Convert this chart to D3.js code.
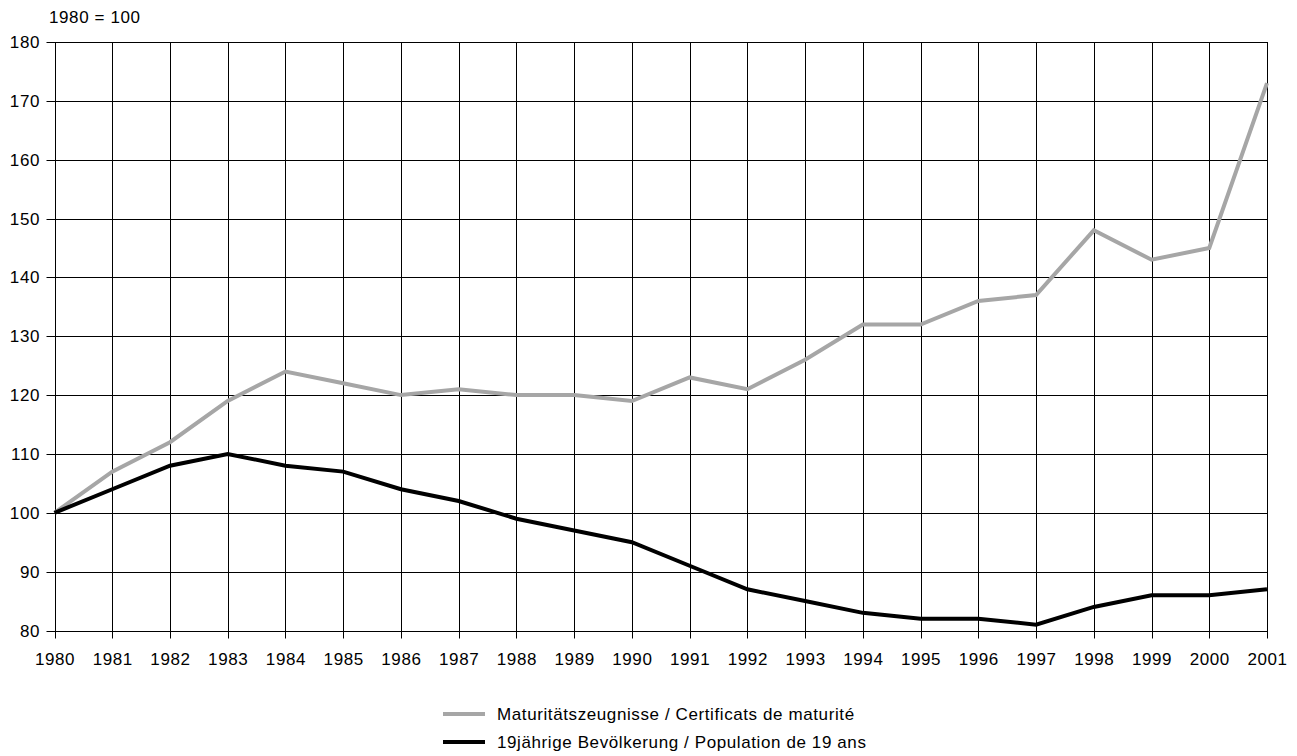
<!DOCTYPE html>
<html>
<head>
<meta charset="utf-8">
<script src="https://cdn.jsdelivr.net/npm/d3@7"></script>
<style>
  body { margin: 0; background: #fff; }
  svg text { font-family: "Liberation Sans", Arial, sans-serif; letter-spacing: 0.6px; }
</style>
</head>
<body>
<div id="chart"></div>
<script>
var years = [1980, 1981, 1982, 1983, 1984, 1985, 1986, 1987, 1988, 1989, 1990,
             1991, 1992, 1993, 1994, 1995, 1996, 1997, 1998, 1999, 2000, 2001];
var maturity = [100, 107, 112, 119, 124, 122, 120, 121, 120, 120, 119,
                123, 121, 126, 132, 132, 136, 137, 148, 143, 145, 173];
var population = [100, 104, 108, 110, 108, 107, 104, 102, 99, 97, 95,
                  91, 87, 85, 83, 82, 82, 81, 84, 86, 86, 87];
var yTicks = [80, 90, 100, 110, 120, 130, 140, 150, 160, 170, 180];
var seriesNames = ["Maturitätszeugnisse / Certificats de maturité",
                   "19jährige Bevölkerung / Population de 19 ans"];

var width = 1297, height = 756;
var plotLeft = 54.5, plotRight = 1267, plotTop = 42, plotBottom = 630.5;

var svg = d3.select("#chart").append("svg")
  .attr("width", width)
  .attr("height", height);

var x = d3.scaleLinear().domain([1980, 2001]).range([plotLeft, plotRight]);
var y = d3.scaleLinear().domain([80, 180]).range([plotBottom, plotTop]);

// grid
svg.append("g")
  .selectAll("line")
  .data(yTicks)
  .enter().append("line")
    .attr("x1", plotLeft - 8)
    .attr("x2", plotRight)
    .attr("y1", function(d) { return Math.round(y(d)) + 0.5; })
    .attr("y2", function(d) { return Math.round(y(d)) + 0.5; })
    .attr("stroke", "#000")
    .attr("stroke-width", 1);

svg.append("g")
  .selectAll("line")
  .data(years)
  .enter().append("line")
    .attr("x1", function(d) { return Math.round(x(d)) + 0.5; })
    .attr("x2", function(d) { return Math.round(x(d)) + 0.5; })
    .attr("y1", plotTop)
    .attr("y2", plotBottom + 8)
    .attr("stroke", "#000")
    .attr("stroke-width", 1);

// axis labels
svg.append("g")
  .selectAll("text")
  .data(yTicks)
  .enter().append("text")
    .attr("x", 40)
    .attr("y", function(d) { return y(d) + 6; })
    .attr("text-anchor", "end")
    .style("font-size", "17px")
    .text(function(d) { return d; });

svg.append("g")
  .selectAll("text")
  .data(years)
  .enter().append("text")
    .attr("x", function(d) { return x(d) + 0.5; })
    .attr("y", 665)
    .attr("text-anchor", "middle")
    .style("font-size", "17px")
    .text(function(d) { return d; });

svg.append("text")
  .attr("x", 49)
  .attr("y", 23)
  .style("font-size", "17px")
  .text("1980 = 100");

// lines
var line = d3.line()
  .x(function(d, i) { return x(years[i]); })
  .y(function(d) { return y(d); });

svg.append("path")
  .datum(maturity)
  .attr("fill", "none")
  .attr("stroke", "#a6a6a6")
  .attr("stroke-width", 4)
  .attr("d", line);

svg.append("path")
  .datum(population)
  .attr("fill", "none")
  .attr("stroke", "#000")
  .attr("stroke-width", 4)
  .attr("d", line);

// legend
var colors = ["#a6a6a6", "#000"];
var legend = svg.append("g")
  .selectAll("g")
  .data(seriesNames)
  .enter().append("g")
    .attr("transform", function(d, i) { return "translate(443," + (714 + i * 28) + ")"; });

legend.append("line")
  .attr("x1", 0).attr("x2", 42)
  .attr("y1", 0).attr("y2", 0)
  .attr("stroke", function(d, i) { return colors[i]; })
  .attr("stroke-width", 4);

legend.append("text")
  .attr("x", 54)
  .attr("y", 6)
  .style("font-size", "17px")
  .text(function(d) { return d; });
</script>
</body>
</html>
